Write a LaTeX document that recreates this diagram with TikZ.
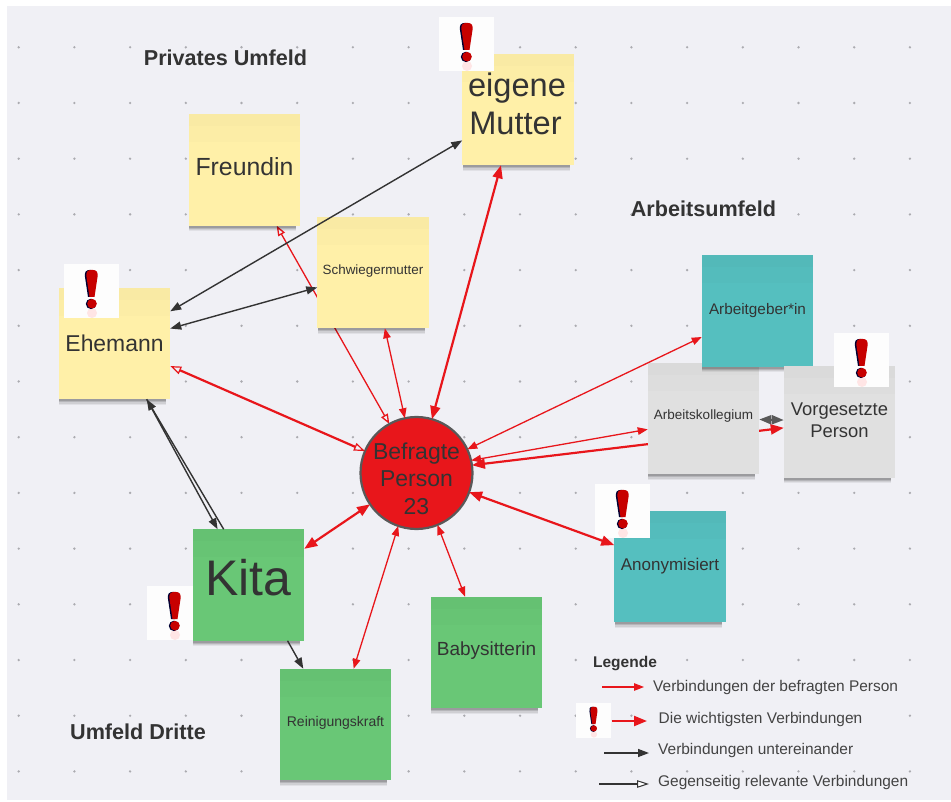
\documentclass[tikz,border=0pt]{standalone}
\usepackage{fontspec}
\setmainfont{Liberation Sans}
\usetikzlibrary{arrows.meta,shadows}
\pgfdeclarelayer{lines}
\pgfdeclarelayer{paper}
\pgfsetlayers{paper,lines,main}
\definecolor{canvas}{HTML}{F0F0F5}
\definecolor{dotc}{HTML}{ABABB0}
\definecolor{ink}{HTML}{333333}
\definecolor{redl}{HTML}{E8161B}
\definecolor{yel}{HTML}{FFF0A8}
\definecolor{grn}{HTML}{69C776}
\definecolor{tea}{HTML}{55BFBF}
\definecolor{gry}{HTML}{E0E0E0}
\newcommand\up[1]{\rule[-#1pt]{0pt}{#1pt}}
\tikzset{
  x=1pt,y=-1pt,
  fs/.style 2 args={font=\fontsize{#1}{#2}\selectfont},
  sticky/.style={rectangle,minimum width=111.5pt,minimum height=111.5pt,inner sep=0pt,outer sep=0pt,
    align=center,text=ink,fill=#1,
    general shadow={shadow scale=.96,shadow xshift=-2pt,shadow yshift=-8.2pt,fill=black,opacity=.06},
    general shadow={shadow scale=.96,shadow xshift=-2pt,shadow yshift=-7pt,fill=black,opacity=.08},
    general shadow={shadow scale=.96,shadow xshift=-2pt,shadow yshift=-5.6pt,fill=black,opacity=.12},
    general shadow={shadow scale=.96,shadow xshift=-2pt,shadow yshift=-4.2pt,fill=black,opacity=.14},
    path picture={
      \fill[black,opacity=.012] (path picture bounding box.north west) rectangle ([yshift=-28pt]path picture bounding box.north east);
      \fill[black,opacity=.012] (path picture bounding box.north west) rectangle ([yshift=-12pt]path picture bounding box.north east);
    }},
  heading/.style={font=\fontsize{21.6}{25}\selectfont\bfseries,text=ink,inner sep=0pt},
  legendtext/.style={font=\fontsize{15.45}{18}\selectfont,text=ink!92,anchor=west,inner sep=0pt},
  thinred/.style={draw=redl,line width=1.3pt,>={Triangle[length=10pt,width=7.5pt]}},
  thickred/.style={draw=redl,line width=2.2pt,>={Triangle[length=13pt,width=10pt]}},
  openred/.style={draw=redl,line width=1.3pt,>={Triangle[open,length=10pt,width=7.5pt,fill=canvas]}},
  openredthick/.style={draw=redl,line width=2.2pt,>={Triangle[open,length=11pt,width=8pt,line width=1.2pt,fill=canvas]}},
  blackl/.style={draw=ink,line width=1.4pt,>={Triangle[length=11pt,width=8pt]}},
  blackopen/.style={draw=ink,line width=1.4pt,>={Triangle[open,length=12pt,width=7.5pt,line width=1pt,fill=white]}},
  greyl/.style={draw=black!65,line width=2pt,>={Triangle[length=12pt,width=9pt]}},
  bang/.pic={
    \begin{scope}
      \clip (0,0) rectangle (55,54);
      \fill[fill=white!60!canvas!40!white] (0,0) rectangle (55,54);
      \fill[red!10!white] (28,49) ellipse (5 and 5);
      \fill[black!80!blue] (26.5,5.8) .. controls (21,5.8) and (20.5,9) .. (21,13) -- (24,33) -- (28,33) -- (32,10) -- cycle;
      \fill[black!80!blue] (27,39.9) circle (5.2);
      \fill[red!78!black] (28,5.8) .. controls (22.5,5.8) and (22,9) .. (22.5,13) -- (25.5,33) -- (30.5,33) -- (33.5,13) .. controls (34,9) and (33.5,5.8) .. (28,5.8) -- cycle;
      \fill[red!78!black] (28,39.7) circle (4.8);
    \end{scope}
  },
}
\begin{document}
\begin{tikzpicture}
\useasboundingbox (0,0) rectangle (951,802);
\begin{pgfonlayer}{paper}
  \fill[white] (0,0) rectangle (951,802);
  \fill[canvas] (7,6) rectangle (951,800);
  \foreach \i in {0,...,16}
    \foreach \j in {0,...,13}
      \fill[dotc] ({18.7+55.7*\i},{47.3+55.7*\j}) circle (1.3);
\end{pgfonlayer}

% headings
\node[heading] (hprivat) at (225.5,58) {Privates Umfeld};
\node[heading] (harbeit) at (703.5,209) {Arbeitsumfeld};
\node[heading] (hdritte) at (138,732) {Umfeld Dritte};

% notes
\pic at (147,586) {bang};
\node[sticky=yel,fs={24.8}{29}] (fre) at (244.5,170) {Freundin\up{6}};
\node[sticky=yel,fs={32.6}{38.5}] (mut) at (518,109.5) {eigene\kern2pt\\Mutter\kern5pt\up{12}};
\node[sticky=yel,fs={13.4}{17}] (sch) at (373,272.5) {Schwiegermutter\up{5}};
\node[sticky=yel,fs={22.9}{27}] (ehe) at (114.5,343.5) {Ehemann\up{1}};
\node[sticky=gry,fs={13.5}{16}] (kol) at (703.5,418.5) {Arbeitskollegium\up{7}};
\node[sticky=tea,fs={15.3}{18}] (geb) at (757.5,311) {Arbeitgeber*in\up{4}};
\node[sticky=gry,fs={18.4}{22}] (vor) at (839.5,422) {Vorgesetzte\\Person\up{4}};
\node[sticky=tea,fs={17}{20}] (ano) at (670,566.5) {Anonymisiert\up{1}};
\node[sticky=grn,fs={50}{58}] (kit) at (248.5,585) {Kita\up{16}};
\node[sticky=grn,fs={19}{22}] (bab) at (486.5,652.5) {Babysitterin\up{7}};
\node[sticky=grn,fs={14}{17}] (rei) at (335.5,724.5) {Reinigungskraft\up{7}};
\node[circle,fill=redl,draw=black!65,line width=2.2pt,minimum size=112pt,inner sep=-17pt,outer sep=0pt,
      align=center,text=ink,fs={23}{27.5}] (cir) at (416.5,473) {\rule{0pt}{28pt}Befragte\\Person\\23};

\pic at (439,17) {bang};
\pic at (64,264) {bang};
\pic at (834,333) {bang};
\pic at (595,484) {bang};

% connectors that pass behind a note
\begin{pgfonlayer}{lines}
  \draw[openred,<->] (fre.-60.6) -- (cir.119.7);
  \draw[thickred,<->] (vor.186.5) -- (cir.8.1);
\end{pgfonlayer}

% connectors
\draw[blackl,<->] (mut.209.4) -- (ehe.30.4);
\draw[blackl,<->] (sch.195.5) -- (ehe.15.6);
\draw[openredthick,<->] (ehe.-22.9) -- (cir.157.3);
\draw[thinred,<->] (sch.-78.5) -- (cir.102.4);
\draw[thickred,<->] (mut.253) -- (cir.74.6);
\draw[thinred,<->] (geb.205.9) -- (cir.25.8);
\draw[thinred,<->] (kol.191.2) -- (cir.13.9);
\draw[greyl,<->] (kol.-1.5) -- (vor.178);
\draw[thickred,<->] (ano.159.9) -- (cir.-20.8);
\draw[thickred,<->] (kit.33.5) -- (cir.214);
\draw[thinred,<->] (rei.72.5) -- (cir.251.4);
\draw[thinred,<->] (bab.111.2) -- (cir.-68.3);
\draw[blackl,->] (kit.114.3) -- (ehe.-60.6);
\draw[blackl,->] (ehe.-60.6) -- (kit.119);
\draw[blackl,->] (kit.-55.1) -- (rei.120.4);

% legend
\node[font=\fontsize{15.5}{18}\selectfont\bfseries,text=ink,inner sep=0pt] (leg) at (625,664) {Legende};
\node[legendtext] (l1) at (653,687.5) {Verbindungen der befragten Person};
\node[legendtext] (l2) at (658.5,719.5) {Die wichtigsten Verbindungen};
\node[legendtext] (l3) at (658,750.5) {Verbindungen untereinander};
\node[legendtext] (l4) at (658,782.5) {Gegenseitig relevante Verbindungen};
\pic[scale=.64] at (576,703) {bang};
\coordinate (a1) at (602,687); \coordinate (b1) at (644,687);
\coordinate (a2) at (611.5,721); \coordinate (b2) at (647,721);
\coordinate (a3) at (604,753); \coordinate (b3) at (649,753);
\coordinate (a4) at (599,784); \coordinate (b4) at (649,784);
\draw[thinred,->] (a1) -- (b1);
\draw[thickred,->] (a2) -- (b2);
\draw[blackl,->] (a3) -- (b3);
\draw[blackopen,->] (a4) -- (b4);
\end{tikzpicture}
\end{document}
